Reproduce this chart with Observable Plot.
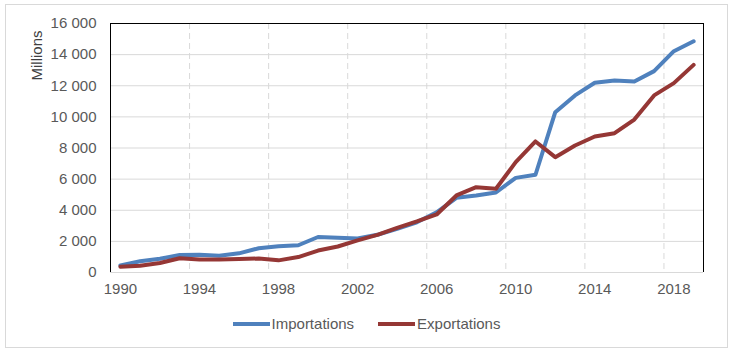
<!DOCTYPE html>
<html>
<head>
<meta charset="utf-8">
<script src="https://cdn.jsdelivr.net/npm/d3@7"></script>
<script src="https://cdn.jsdelivr.net/npm/@observablehq/plot@0.6"></script>
<style>
  html, body { margin: 0; padding: 0; background: #fff; }
  #wrap { position: relative; width: 733px; height: 353px; font-family: "Liberation Sans", Arial, sans-serif; }
  #border { position: absolute; left: 5px; top: 4px; width: 721px; height: 342px; border: 1px solid #d9d9d9; }
  #chart { position: absolute; left: 0; top: 0; }
  #legend { position: absolute; left: 5px; width: 723px; top: 315px; display: flex; justify-content: center; align-items: center; font-size: 15px; color: #595959; }
  .item { display: flex; align-items: center; margin: 0 12px; }
  .swatch { width: 37px; height: 4px; margin-right: 2px; }
</style>
</head>
<body>
<div id="wrap">
  <div id="border"></div>
  <div id="chart"></div>
  <div id="legend"></div>
</div>
<script>
const years = d3.range(1990, 2020);
const importations = [450, 720, 880, 1120, 1140, 1070, 1230, 1560, 1690, 1750, 2280, 2230, 2180, 2420, 2800, 3230, 3870, 4800, 4950, 5140, 6080, 6280, 10300, 11380, 12190, 12340, 12270, 12940, 14220, 14860];
const exportations = [370, 440, 610, 920, 840, 840, 860, 900, 780, 990, 1410, 1670, 2060, 2420, 2870, 3280, 3730, 4950, 5480, 5380, 7090, 8420, 7410, 8160, 8740, 8950, 9830, 11380, 12170, 13340];
const seriesNames = ["Importations", "Exportations"];
const seriesColors = ["#4f81bd", "#953735"];
const yTicks = [0, 2000, 4000, 6000, 8000, 10000, 12000, 14000, 16000];
const xTicks = [1990, 1994, 1998, 2002, 2006, 2010, 2014, 2018];
const yLabel = "Millions";

const data = [];
years.forEach((yr, i) => {
  data.push({year: yr, value: importations[i], series: seriesNames[0]});
});
years.forEach((yr, i) => {
  data.push({year: yr, value: exportations[i], series: seriesNames[1]});
});
const xMin = years[0] - 0.5, xMax = years[years.length - 1] + 0.5;
const vGrid = xTicks.slice(1).map(t => t - 0.5);
const fmt = v => d3.format(",")(v).replace(/,/g, " ");

const chart = Plot.plot({
  width: 733,
  height: 300,
  marginLeft: 110,
  marginRight: 30,
  marginTop: 23,
  marginBottom: 28,
  style: {fontFamily: "'Liberation Sans', Arial, sans-serif", fontSize: "15px", background: "transparent"},
  x: {domain: [xMin, xMax]},
  y: {domain: [0, 16000]},
  color: {domain: seriesNames, range: seriesColors},
  marks: [
    Plot.ruleY(yTicks, {stroke: "#d9d9d9", strokeWidth: 1}),
    Plot.ruleX(vGrid, {stroke: "#d9d9d9", strokeWidth: 1, strokeDasharray: "6,4"}),
    Plot.ruleX([xMin, xMax], {stroke: "#000", strokeWidth: 1, y1: 0, y2: 16000}),
    Plot.ruleY([16000], {stroke: "#000", strokeWidth: 1}),
    Plot.axisY({ticks: yTicks, tickFormat: fmt, tickSize: 0, tickPadding: 14, label: null, fill: "#595959", fontSize: 15}),
    Plot.axisX({ticks: xTicks, tickFormat: d => String(d), tickSize: 0, tickPadding: 11, label: null, fill: "#595959", fontSize: 15}),
    Plot.line(data, {x: "year", y: "value", stroke: "series", z: "series", strokeWidth: 4, strokeLinejoin: "round", strokeLinecap: "round"}),
    Plot.text([yLabel], {frameAnchor: "top-left", rotate: -90, textAnchor: "end", dx: -79, dy: 7, fill: "#404040", fontSize: 15})
  ]
});
document.getElementById("chart").appendChild(chart);

const legend = document.getElementById("legend");
seriesNames.forEach((name, i) => {
  const it = document.createElement("div");
  it.className = "item";
  const sw = document.createElement("span");
  sw.className = "swatch";
  sw.style.background = seriesColors[i];
  const tx = document.createElement("span");
  tx.textContent = name;
  it.appendChild(sw); it.appendChild(tx);
  legend.appendChild(it);
});
</script>
</body>
</html>
